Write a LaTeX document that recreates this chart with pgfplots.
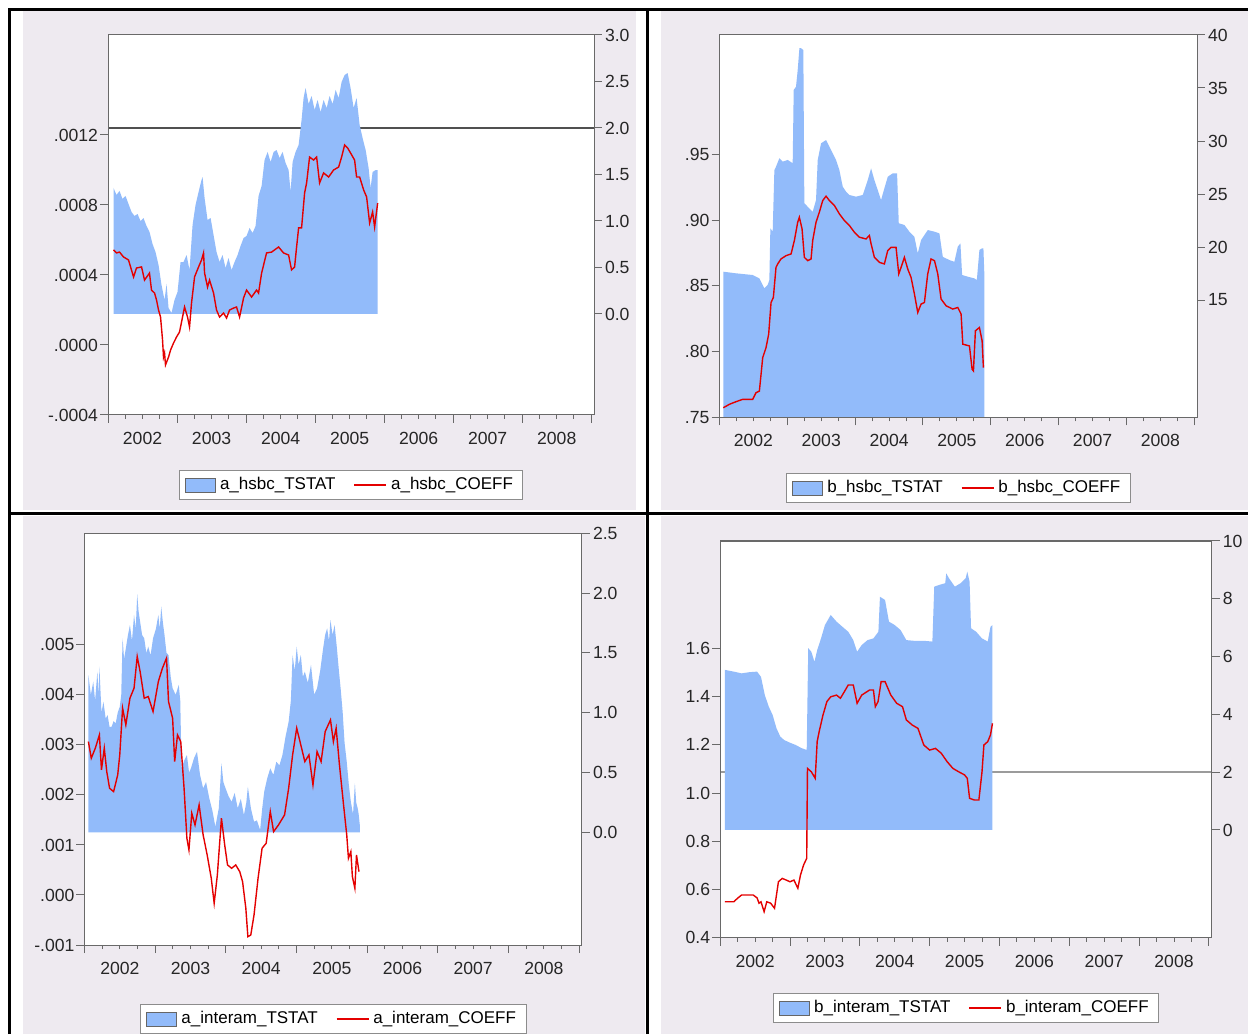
\documentclass[border=0pt]{standalone}
\usepackage{fontspec}
\setmainfont{Liberation Sans}
\usepackage{pgfplots}
\usepackage{pgfplotstable}
\pgfplotsset{compat=1.18}

\definecolor{tblue}{RGB}{146,187,250}
\definecolor{cred}{RGB}{228,0,0}
\definecolor{panelbg}{RGB}{238,234,240}
\definecolor{framegray}{RGB}{105,105,105}
\definecolor{hlinedark}{RGB}{80,80,80}
\definecolor{hlinelight}{RGB}{155,155,155}

\pgfplotsset{
  every axis/.append style={
    scale only axis,
    xmin=2002, xmax=2009.04,
    tick align=outside,
    major tick length=4pt,
    minor tick length=2pt,
    axis line style={draw=framegray, line width=0.5pt},
    tick style={draw=framegray, line width=0.5pt},
    tick label style={font=\fontsize{8.8}{10}\selectfont, text=black!85},
    scaled y ticks=false,
  },
  % right-hand scale: rolling t statistic drawn as an area
  tstat/.style={
    xtick=\empty, ytick pos=right, yticklabel pos=right,
    yticklabel style={xshift=-2pt},
    axis background/.style={fill=white},
  },
  % left-hand scale: rolling coefficient, dates along the bottom
  coeff/.style={
    xtick={2002,2003,2004,2005,2006,2007,2008,2009},
    xticklabels={2002,2003,2004,2005,2006,2007,2008,},
    minor x tick num=3,
    xtick pos=bottom, ytick pos=left,
    yticklabel style={xshift=2.5pt},
    legend columns=2,
    legend cell align=left,
    legend style={draw=black!45, fill=white, line width=0.5pt,
      font=\fontsize{8.5}{9.5}\selectfont, at={(0.5,0)}, anchor=north,
      inner xsep=3pt, inner ysep=1.5pt,
      /tikz/every even column/.append style={column sep=7pt}},
  },
  tpatch/.style={legend image code/.code={%
    \draw[fill=tblue,draw=black!60,line width=0.5pt] (0pt,-3.5pt) rectangle (15pt,3.5pt);}},
  cline/.style={color=cred, draw=cred, line width=0.7pt, legend image code/.code={%
    \draw[draw=cred,line width=0.75pt] (0pt,0pt) -- (16pt,0pt);}},
}

% ---------------- a_hsbc ----------------
\pgfplotstableread{
year t
2002.080 1.355
2002.123 1.280
2002.167 1.323
2002.210 1.237
2002.254 1.269
2002.297 1.183
2002.341 1.097
2002.384 1.054
2002.428 1.075
2002.471 1.000
2002.514 1.032
2002.558 0.946
2002.601 0.882
2002.645 0.753
2002.688 0.667
2002.732 0.527
2002.775 0.312
2002.819 0.151
2002.848 0.323
2002.877 0.065
2002.920 0.011
2002.964 0.151
2003.007 0.237
2003.051 0.559
2003.094 0.559
2003.138 0.634
2003.181 0.473
2003.225 0.957
2003.268 1.172
2003.312 1.312
2003.355 1.441
2003.370 1.473
2003.399 1.247
2003.442 1.011
2003.486 1.032
2003.529 0.849
2003.572 0.667
2003.616 0.559
2003.659 0.634
2003.703 0.495
2003.746 0.602
2003.790 0.473
2003.833 0.559
2003.877 0.634
2003.920 0.731
2003.964 0.817
2004.007 0.839
2004.051 0.925
2004.094 0.871
2004.138 0.946
2004.181 1.269
2004.225 1.376
2004.268 1.656
2004.312 1.742
2004.355 1.634
2004.399 1.742
2004.442 1.763
2004.486 1.677
2004.529 1.742
2004.572 1.624
2004.616 1.548
2004.645 1.312
2004.674 1.634
2004.717 1.742
2004.761 1.817
2004.804 2.086
2004.833 2.323
2004.862 2.430
2004.906 2.258
2004.949 2.344
2004.993 2.194
2005.036 2.301
2005.080 2.172
2005.123 2.301
2005.167 2.215
2005.210 2.344
2005.254 2.258
2005.297 2.409
2005.341 2.323
2005.384 2.495
2005.428 2.570
2005.471 2.591
2005.514 2.430
2005.558 2.215
2005.601 2.323
2005.645 2.032
2005.688 1.892
2005.732 1.763
2005.775 1.570
2005.804 1.355
2005.833 1.527
2005.877 1.548
2005.906 1.548
}\aHT

\pgfplotstableread{
year c
2002.080 0.000543
2002.123 0.000526
2002.167 0.000531
2002.225 0.000503
2002.297 0.000486
2002.370 0.000389
2002.413 0.000440
2002.486 0.000446
2002.529 0.000371
2002.601 0.000411
2002.630 0.000314
2002.674 0.000297
2002.703 0.000257
2002.732 0.000200
2002.761 0.000160
2002.790 0.000029
2002.804 -0.000069
2002.819 -0.000046
2002.833 -0.000114
2002.877 -0.000069
2002.906 -0.000029
2002.949 0.000011
2002.993 0.000046
2003.036 0.000074
2003.080 0.000160
2003.109 0.000217
2003.152 0.000160
2003.181 0.000103
2003.210 0.000240
2003.254 0.000389
2003.312 0.000446
2003.355 0.000486
2003.384 0.000526
2003.399 0.000411
2003.442 0.000331
2003.471 0.000371
2003.529 0.000297
2003.572 0.000200
2003.616 0.000160
2003.674 0.000183
2003.717 0.000154
2003.761 0.000200
2003.819 0.000211
2003.862 0.000217
2003.906 0.000160
2003.964 0.000269
2004.007 0.000314
2004.080 0.000274
2004.152 0.000314
2004.181 0.000297
2004.225 0.000411
2004.297 0.000526
2004.370 0.000531
2004.471 0.000560
2004.543 0.000526
2004.616 0.000514
2004.659 0.000429
2004.703 0.000446
2004.732 0.000560
2004.761 0.000669
2004.804 0.000669
2004.848 0.000869
2004.877 0.000926
2004.920 0.001074
2004.978 0.001057
2005.022 0.001074
2005.065 0.000926
2005.123 0.000983
2005.196 0.000960
2005.268 0.001000
2005.341 0.001017
2005.384 0.001074
2005.428 0.001143
2005.471 0.001126
2005.514 0.001097
2005.572 0.001057
2005.601 0.000960
2005.645 0.000960
2005.703 0.000886
2005.746 0.000846
2005.790 0.000697
2005.833 0.000760
2005.862 0.000674
2005.906 0.000811
}\aHC

% ---------------- b_hsbc ----------------
\pgfplotstableread{
year t
2002.056 17.67
2002.243 17.52
2002.489 17.36
2002.588 17.04
2002.661 16.10
2002.710 16.42
2002.735 16.89
2002.750 21.76
2002.784 21.45
2002.809 27.26
2002.823 27.42
2002.882 28.37
2002.932 28.05
2003.006 28.21
2003.079 27.90
2003.094 34.81
2003.128 35.12
2003.153 36.70
2003.178 38.75
2003.202 38.75
2003.236 38.58
2003.251 24.12
2003.324 23.65
2003.374 23.33
2003.423 24.43
2003.448 28.21
2003.497 29.78
2003.571 30.09
2003.645 29.15
2003.718 28.21
2003.767 27.26
2003.817 25.69
2003.866 25.22
2003.914 24.91
2004.013 24.75
2004.112 24.91
2004.186 26.32
2004.235 27.42
2004.283 26.32
2004.333 25.38
2004.382 24.43
2004.431 25.54
2004.481 26.63
2004.555 26.95
2004.618 26.95
2004.643 22.24
2004.726 22.08
2004.799 21.45
2004.873 20.97
2004.923 19.41
2004.972 20.66
2005.071 21.60
2005.168 21.45
2005.242 21.29
2005.292 19.08
2005.389 18.77
2005.463 18.61
2005.513 20.03
2005.552 20.35
2005.577 17.36
2005.661 17.20
2005.758 17.04
2005.794 16.89
2005.832 19.72
2005.872 19.88
2005.891 19.88
2005.906 17.20
}\bHT

\pgfplotstableread{
year c
2002.056 0.7574
2002.145 0.7600
2002.243 0.7620
2002.342 0.7638
2002.440 0.7638
2002.489 0.7638
2002.538 0.7688
2002.588 0.7701
2002.637 0.7955
2002.686 0.8031
2002.725 0.8133
2002.760 0.8374
2002.794 0.8412
2002.833 0.8641
2002.858 0.8667
2002.907 0.8705
2002.981 0.8730
2003.055 0.8743
2003.104 0.8845
2003.153 0.8984
2003.177 0.9022
2003.217 0.8934
2003.251 0.8717
2003.300 0.8692
2003.350 0.8705
2003.374 0.8845
2003.423 0.8984
2003.472 0.9060
2003.522 0.9149
2003.571 0.9182
2003.620 0.9149
2003.694 0.9111
2003.767 0.9048
2003.841 0.8997
2003.915 0.8959
2003.989 0.8908
2004.062 0.8870
2004.161 0.8857
2004.210 0.8883
2004.235 0.8819
2004.284 0.8717
2004.357 0.8679
2004.431 0.8667
2004.480 0.8768
2004.529 0.8793
2004.603 0.8793
2004.643 0.8591
2004.677 0.8641
2004.726 0.8717
2004.775 0.8629
2004.824 0.8565
2004.874 0.8438
2004.923 0.8298
2004.972 0.8362
2005.021 0.8374
2005.070 0.8591
2005.119 0.8705
2005.169 0.8692
2005.218 0.8591
2005.267 0.8400
2005.341 0.8349
2005.439 0.8324
2005.513 0.8336
2005.562 0.8286
2005.587 0.8057
2005.685 0.8044
2005.724 0.7867
2005.744 0.7854
2005.773 0.8159
2005.832 0.8184
2005.872 0.8082
2005.891 0.7879
}\bHC

% ---------------- a_interam ----------------
\pgfplotstableread{
year t
2002.055 1.315
2002.090 1.150
2002.124 1.259
2002.150 1.100
2002.182 1.343
2002.200 1.150
2002.211 1.385
2002.240 1.000
2002.268 1.092
2002.300 0.950
2002.326 0.981
2002.355 0.880
2002.384 0.883
2002.412 0.930
2002.441 0.911
2002.470 1.000
2002.499 1.050
2002.520 1.150
2002.539 1.622
2002.560 1.450
2002.585 1.538
2002.615 1.650
2002.643 1.733
2002.672 1.600
2002.701 1.817
2002.725 1.700
2002.746 1.990
2002.765 1.850
2002.787 1.761
2002.815 1.650
2002.845 1.622
2002.875 1.500
2002.902 1.552
2002.935 1.480
2002.970 1.622
2003.010 1.700
2003.045 1.817
2003.065 1.700
2003.086 1.886
2003.110 1.750
2003.132 1.650
2003.160 1.500
2003.189 1.482
2003.220 1.300
2003.247 1.204
2003.290 1.150
2003.334 1.232
2003.355 1.100
2003.374 0.535
2003.410 0.600
2003.449 0.646
2003.480 0.500
2003.506 0.535
2003.550 0.620
2003.592 0.674
2003.635 0.480
2003.679 0.368
2003.720 0.420
2003.766 0.284
2003.810 0.180
2003.852 0.047
2003.900 0.200
2003.938 0.577
2003.965 0.420
2003.996 0.368
2004.040 0.300
2004.082 0.256
2004.125 0.330
2004.168 0.201
2004.212 0.280
2004.256 0.145
2004.290 0.250
2004.312 0.381
2004.355 0.200
2004.399 0.089
2004.440 0.100
2004.485 0.019
2004.515 0.200
2004.543 0.339
2004.585 0.450
2004.629 0.535
2004.672 0.480
2004.715 0.590
2004.758 0.560
2004.801 0.646
2004.845 0.800
2004.889 0.925
2004.920 1.100
2004.945 1.482
2004.975 1.350
2005.003 1.552
2005.030 1.400
2005.061 1.482
2005.090 1.300
2005.118 1.343
2005.160 1.250
2005.205 1.399
2005.250 1.150
2005.291 1.204
2005.335 1.350
2005.377 1.538
2005.405 1.650
2005.434 1.706
2005.460 1.600
2005.481 1.775
2005.510 1.650
2005.539 1.733
2005.570 1.550
2005.597 1.371
2005.625 1.200
2005.653 1.008
2005.680 0.750
2005.711 0.590
2005.740 0.400
2005.769 0.256
2005.800 0.150
2005.826 0.410
2005.845 0.250
2005.866 0.201
2005.880 0.150
2005.896 0.061
}\aIT

\pgfplotstableread{
year c
2002.055 0.003066
2002.096 0.002734
2002.153 0.002934
2002.211 0.003200
2002.240 0.002500
2002.280 0.002934
2002.315 0.002466
2002.355 0.002134
2002.412 0.002066
2002.470 0.002400
2002.499 0.002800
2002.539 0.003734
2002.585 0.003400
2002.643 0.003934
2002.701 0.004134
2002.746 0.004766
2002.787 0.004466
2002.845 0.003934
2002.902 0.003966
2002.970 0.003666
2003.045 0.004266
2003.103 0.004534
2003.161 0.004734
2003.189 0.003866
2003.247 0.003534
2003.276 0.002666
2003.316 0.003200
2003.362 0.003066
2003.409 0.002134
2003.449 0.001134
2003.478 0.000900
2003.518 0.001634
2003.564 0.001400
2003.622 0.001800
2003.679 0.001200
2003.736 0.000800
2003.794 0.000334
2003.835 -0.000166
2003.880 0.000400
2003.938 0.001534
2003.984 0.001000
2004.024 0.000600
2004.082 0.000534
2004.140 0.000600
2004.197 0.000466
2004.237 0.000266
2004.283 -0.000266
2004.312 -0.000834
2004.353 -0.000800
2004.399 -0.000400
2004.456 0.000334
2004.513 0.000934
2004.571 0.001034
2004.629 0.001666
2004.676 0.001266
2004.745 0.001400
2004.831 0.001600
2004.889 0.002134
2004.945 0.002800
2005.003 0.003334
2005.061 0.003000
2005.118 0.002666
2005.176 0.002800
2005.233 0.002200
2005.291 0.002866
2005.348 0.002666
2005.406 0.003266
2005.481 0.003500
2005.522 0.003066
2005.561 0.003334
2005.608 0.002600
2005.666 0.001800
2005.711 0.001200
2005.735 0.000734
2005.769 0.000866
2005.791 0.000366
2005.826 0.000134
2005.849 0.000800
2005.884 0.000466
}\aIC

% ---------------- b_interam ----------------
\pgfplotstableread{
year t
2002.067 5.54
2002.195 5.48
2002.306 5.42
2002.417 5.46
2002.528 5.48
2002.584 5.30
2002.639 4.67
2002.695 4.27
2002.751 3.98
2002.806 3.52
2002.861 3.23
2002.917 3.11
2003.000 3.02
2003.083 2.94
2003.167 2.83
2003.239 2.77
2003.261 6.29
2003.305 6.17
2003.350 5.82
2003.390 6.23
2003.444 6.63
2003.500 7.09
2003.583 7.44
2003.666 7.21
2003.751 7.03
2003.834 6.86
2003.906 6.57
2003.961 6.17
2004.027 6.40
2004.110 6.57
2004.195 6.63
2004.266 6.86
2004.288 8.07
2004.361 7.96
2004.417 7.21
2004.500 7.09
2004.583 6.92
2004.666 6.57
2004.805 6.54
2004.944 6.54
2005.039 6.52
2005.066 8.42
2005.138 8.48
2005.223 8.54
2005.238 8.88
2005.277 8.71
2005.361 8.42
2005.444 8.54
2005.516 8.71
2005.539 8.94
2005.572 8.59
2005.593 6.98
2005.666 6.86
2005.749 6.63
2005.832 6.52
2005.871 7.03
2005.900 7.09
}\bIT

\pgfplotstableread{
year c
2002.067 0.549
2002.195 0.549
2002.250 0.564
2002.306 0.577
2002.362 0.577
2002.473 0.577
2002.528 0.565
2002.556 0.543
2002.584 0.549
2002.629 0.508
2002.667 0.549
2002.723 0.543
2002.778 0.522
2002.834 0.632
2002.889 0.646
2002.945 0.639
2003.000 0.632
2003.056 0.639
2003.112 0.605
2003.150 0.660
2003.195 0.702
2003.239 0.729
2003.250 1.102
2003.305 1.088
2003.361 1.061
2003.389 1.213
2003.417 1.254
2003.472 1.323
2003.528 1.379
2003.583 1.399
2003.666 1.406
2003.722 1.393
2003.778 1.420
2003.834 1.448
2003.906 1.448
2003.961 1.372
2004.027 1.406
2004.139 1.427
2004.195 1.427
2004.222 1.358
2004.261 1.379
2004.305 1.462
2004.361 1.462
2004.444 1.406
2004.528 1.372
2004.611 1.358
2004.666 1.303
2004.750 1.282
2004.833 1.268
2004.916 1.199
2005.000 1.178
2005.083 1.185
2005.166 1.165
2005.250 1.130
2005.333 1.102
2005.416 1.088
2005.500 1.075
2005.539 1.061
2005.572 0.978
2005.639 0.971
2005.705 0.971
2005.750 1.088
2005.777 1.199
2005.832 1.213
2005.871 1.241
2005.900 1.289
}\bIC

\begin{document}
\begin{tikzpicture}
\useasboundingbox (0,0) rectangle (624pt,517pt);
\fill[white] (0,0) rectangle (624pt,517pt);
% panel backgrounds
\fill[panelbg] (11.5pt,262pt) rectangle (318pt,512pt);
\fill[panelbg] (330.5pt,262pt) rectangle (624pt,512pt);
\fill[panelbg] (11.5pt,0pt) rectangle (322.5pt,259pt);
\fill[panelbg] (330.5pt,0pt) rectangle (624pt,259pt);
% frame rules
\draw[black, line width=1.5pt] (4pt,512.25pt) -- (624pt,512.25pt);
\draw[black, line width=1.5pt] (4.75pt,0pt) -- (4.75pt,513pt);
\draw[black, line width=1.5pt] (323.5pt,0pt) -- (323.5pt,513pt);
\draw[black, line width=1.5pt] (4pt,260.25pt) -- (624pt,260.25pt);

% ===== a_hsbc =====
\begin{axis}[tstat, at={(54pt,309.5pt)}, anchor=south west, width=243pt, height=190pt,
  ymin=-1.086, ymax=3.0, ytick={0,0.5,1,1.5,2,2.5,3},
  yticklabels={0.0,0.5,1.0,1.5,2.0,2.5,3.0}]
\addplot[hlinedark, line width=0.8pt, forget plot] coordinates {(2001,2) (2010,2)};
\addplot[fill=tblue, draw=none] table[x=year,y=t] {\aHT} \closedcycle;
\end{axis}
\begin{axis}[coeff, at={(54pt,309.5pt)}, anchor=south west, width=243pt, height=190pt,
  ymin=-0.0004, ymax=0.0017714, ytick={-0.0004,0,0.0004,0.0008,0.0012},
  yticklabels={-.0004,.0000,.0004,.0008,.0012},
  xticklabel style={xshift=17.26pt, yshift=-1pt}, legend style={yshift=-27.5pt}]
\addlegendimage{tpatch}
\addlegendentry{a\_hsbc\_TSTAT}
\addplot[cline] table[x=year,y=c] {\aHC};
\addlegendentry{a\_hsbc\_COEFF}
\end{axis}

% ===== b_hsbc =====
\begin{axis}[tstat, at={(359.75pt,308.25pt)}, anchor=south west, width=238.75pt, height=191.25pt,
  ymin=3.92, ymax=40, ytick={15,20,25,30,35,40},
  yticklabels={15,20,25,30,35,40}]
\addplot[fill=tblue, draw=none] table[x=year,y=t] {\bHT} \closedcycle;
\end{axis}
\begin{axis}[coeff, at={(359.75pt,308.25pt)}, anchor=south west, width=238.75pt, height=191.25pt,
  ymin=0.75, ymax=1.0407, ytick={0.75,0.80,0.85,0.90,0.95},
  yticklabels={.75,.80,.85,.90,.95},
  xticklabel style={xshift=16.96pt, yshift=-1pt}, legend style={yshift=-27.75pt}]
\addlegendimage{tpatch}
\addlegendentry{b\_hsbc\_TSTAT}
\addplot[cline] table[x=year,y=c] {\bHC};
\addlegendentry{b\_hsbc\_COEFF}
\end{axis}

% ===== a_interam =====
\begin{axis}[tstat, at={(42.25pt,44.5pt)}, anchor=south west, width=248.75pt, height=205.85pt,
  ymin=-0.942, ymax=2.5, ytick={0,0.5,1,1.5,2,2.5},
  yticklabels={0.0,0.5,1.0,1.5,2.0,2.5}]
\addplot[fill=tblue, draw=none] table[x=year,y=t] {\aIT} \closedcycle;
\end{axis}
\begin{axis}[coeff, at={(42.25pt,44.5pt)}, anchor=south west, width=248.75pt, height=205.85pt,
  ymin=-0.001, ymax=0.00723, ytick={-0.001,0,0.001,0.002,0.003,0.004,0.005},
  yticklabels={-.001,.000,.001,.002,.003,.004,.005},
  xticklabel style={xshift=17.67pt, yshift=-1pt}, legend style={yshift=-29.5pt}]
\addlegendimage{tpatch}
\addlegendentry{a\_interam\_TSTAT}
\addplot[cline] table[x=year,y=c] {\aIC};
\addlegendentry{a\_interam\_COEFF}
\end{axis}

% ===== b_interam =====
\begin{axis}[tstat, at={(360.1pt,48.15pt)}, anchor=south west, width=245.75pt, height=198.35pt,
  ymin=-3.727, ymax=10, ytick={0,2,4,6,8,10},
  yticklabels={0,2,4,6,8,10}]
\addplot[hlinelight, line width=0.8pt, forget plot] coordinates {(2001,2) (2010,2)};
\addplot[fill=tblue, draw=none] table[x=year,y=t] {\bIT} \closedcycle;
\end{axis}
\begin{axis}[coeff, at={(360.1pt,48.15pt)}, anchor=south west, width=245.75pt, height=198.35pt,
  ymin=0.4, ymax=2.045, ytick={0.4,0.6,0.8,1.0,1.2,1.4,1.6},
  yticklabels={0.4,0.6,0.8,1.0,1.2,1.4,1.6},
  xticklabel style={xshift=17.45pt, yshift=-1pt}, legend style={yshift=-27.65pt}]
\addlegendimage{tpatch}
\addlegendentry{b\_interam\_TSTAT}
\addplot[cline] table[x=year,y=c] {\bIC};
\addlegendentry{b\_interam\_COEFF}
\end{axis}
\end{tikzpicture}
\end{document}
